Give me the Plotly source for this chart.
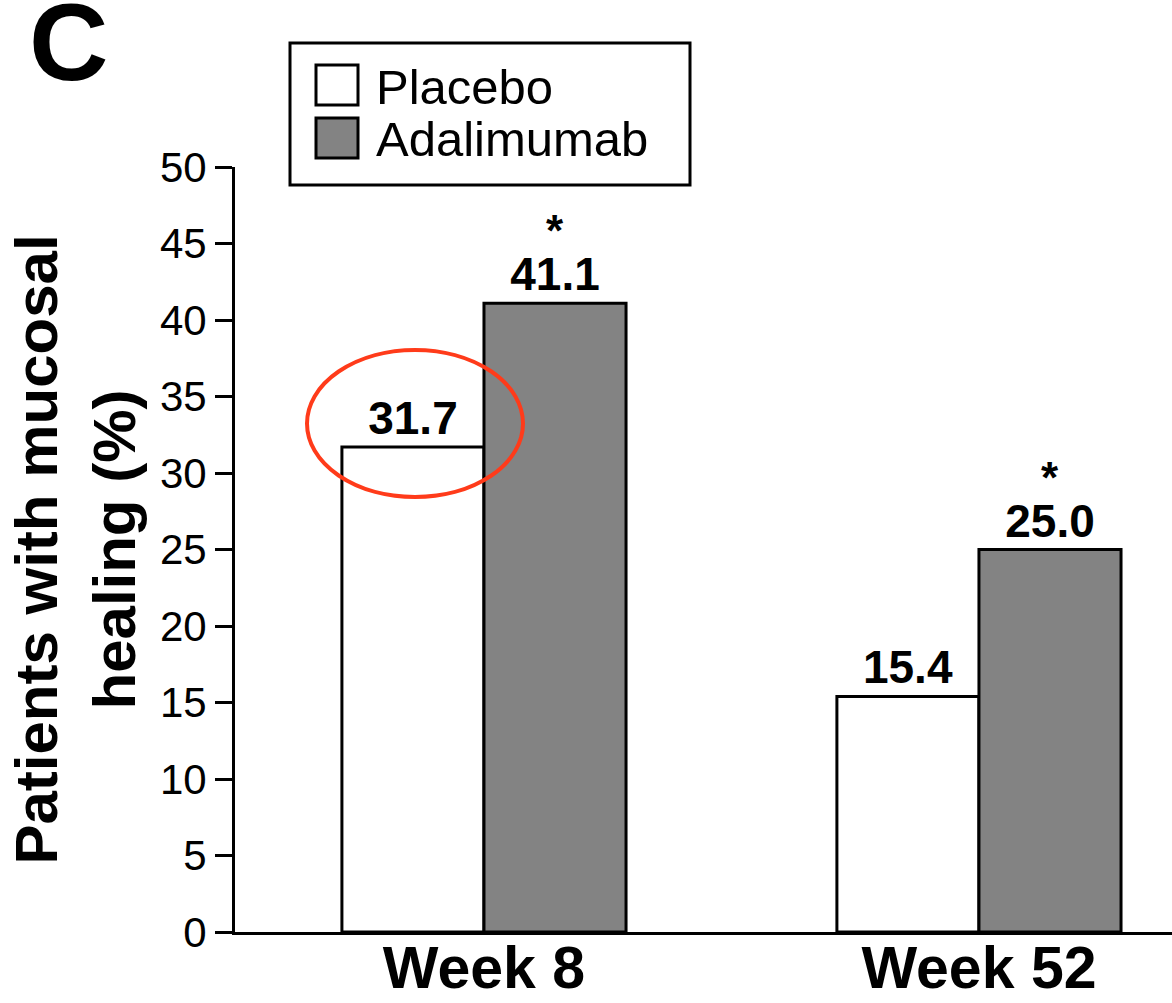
import plotly.graph_objects as go

# ---- data ----
categories = ["Week 8", "Week 52"]
placebo = [31.7, 15.4]
adalimumab = [41.1, 25.0]
adalimumab_sig = ["*", "*"]
series_names = ["Placebo", "Adalimumab"]
y_ticks = [0, 5, 10, 15, 20, 25, 30, 35, 40, 45, 50]
y_title = "Patients with mucosal<br>healing (%)"
panel_label = "C"

FONT = "Liberation Sans, Arial, Helvetica, sans-serif"
GRAY = "#838383"
BARGAP = 0.426

W, H = 1172, 1003
ML, MR, MT, MB = 235, 0, 167, 71
PW, PH = W - ML - MR, H - MT - MB


def px_x(p):
    return (p - ML) / PW


def px_y(p):
    return (H - MB - p) / PH


fig = go.Figure()
fig.add_trace(go.Bar(
    name=series_names[0], x=categories, y=placebo,
    marker=dict(color="white", line=dict(color="black", width=3)),
    text=[f"{v:.1f}" for v in placebo], textposition="outside", constraintext="none",
    textfont=dict(family=FONT, size=46, color="black", weight="bold"),
    cliponaxis=False, showlegend=False,
))
fig.add_trace(go.Bar(
    name=series_names[1], x=categories, y=adalimumab,
    marker=dict(color=GRAY, line=dict(color="black", width=3)),
    text=[f"{v:.1f}" for v in adalimumab], textposition="outside", constraintext="none",
    textfont=dict(family=FONT, size=46, color="black", weight="bold"),
    cliponaxis=False, showlegend=False,
))

# manual legend (large swatches as in the original)
shapes = [
    dict(type="rect", xref="paper", yref="paper",
         x0=px_x(290), x1=px_x(690), y0=px_y(185), y1=px_y(43),
         line=dict(color="black", width=3), fillcolor="white"),
    dict(type="rect", xref="paper", yref="paper",
         x0=px_x(316), x1=px_x(358), y0=px_y(105), y1=px_y(65),
         line=dict(color="black", width=3), fillcolor="white"),
    dict(type="rect", xref="paper", yref="paper",
         x0=px_x(316), x1=px_x(358), y0=px_y(158), y1=px_y(118),
         line=dict(color="black", width=3), fillcolor=GRAY),
    # highlight ellipse
    dict(type="circle", xref="paper", yref="paper",
         x0=px_x(307), x1=px_x(523), y0=px_y(497), y1=px_y(350),
         line=dict(color="#FF3B1A", width=4)),
]
annotations = [
    dict(text=series_names[0], xref="paper", yref="paper", x=px_x(374), y=px_y(87),
         xanchor="left", yanchor="middle", showarrow=False,
         font=dict(family=FONT, size=49, color="black")),
    dict(text=series_names[1], xref="paper", yref="paper", x=px_x(374), y=px_y(139),
         xanchor="left", yanchor="middle", showarrow=False,
         font=dict(family=FONT, size=49, color="black")),
]
# significance markers above the Adalimumab bars (second bar of each group)
for i, (v, s) in enumerate(zip(adalimumab, adalimumab_sig)):
    if s:
        annotations.append(dict(
            text=f"<b>{s}</b>", xref="x", yref="y", x=i + (1 - BARGAP) / 4, y=v,
            xanchor="center", yanchor="bottom", yshift=46, showarrow=False,
            font=dict(family=FONT, size=44, color="black"),
        ))

fig.update_layout(
    width=W, height=H,
    margin=dict(l=ML, r=MR, t=MT, b=MB, autoexpand=False),
    paper_bgcolor="white", plot_bgcolor="white",
    barmode="group", bargap=BARGAP, bargroupgap=0,
    showlegend=False,
    title=dict(text=f"<b>{panel_label}</b>", x=29 / W, xanchor="left",
               y=1 - 3 / H, yanchor="top",
               font=dict(family=FONT, size=110, color="black")),
    shapes=shapes, annotations=annotations,
    font=dict(family=FONT, color="black"),
)
fig.update_xaxes(
    type="category", range=[-0.503, 1.39],
    showline=True, linecolor="black", linewidth=3,
    ticks="", showgrid=False, zeroline=False, ticklabelstandoff=-18,
    tickfont=dict(family=FONT, size=59, color="black", weight="bold"),
)
fig.update_yaxes(
    range=[0, 50], tickvals=y_ticks, ticktext=[str(t) for t in y_ticks],
    showline=True, linecolor="black", linewidth=3,
    ticks="outside", ticklen=17, tickwidth=3, tickcolor="black",
    showgrid=False, zeroline=False,
    tickfont=dict(family=FONT, size=42, color="black"),
    title=dict(text=y_title, standoff=5,
               font=dict(family=FONT, size=60, color="black", weight="bold")),
)

fig.write_html("out.html")
